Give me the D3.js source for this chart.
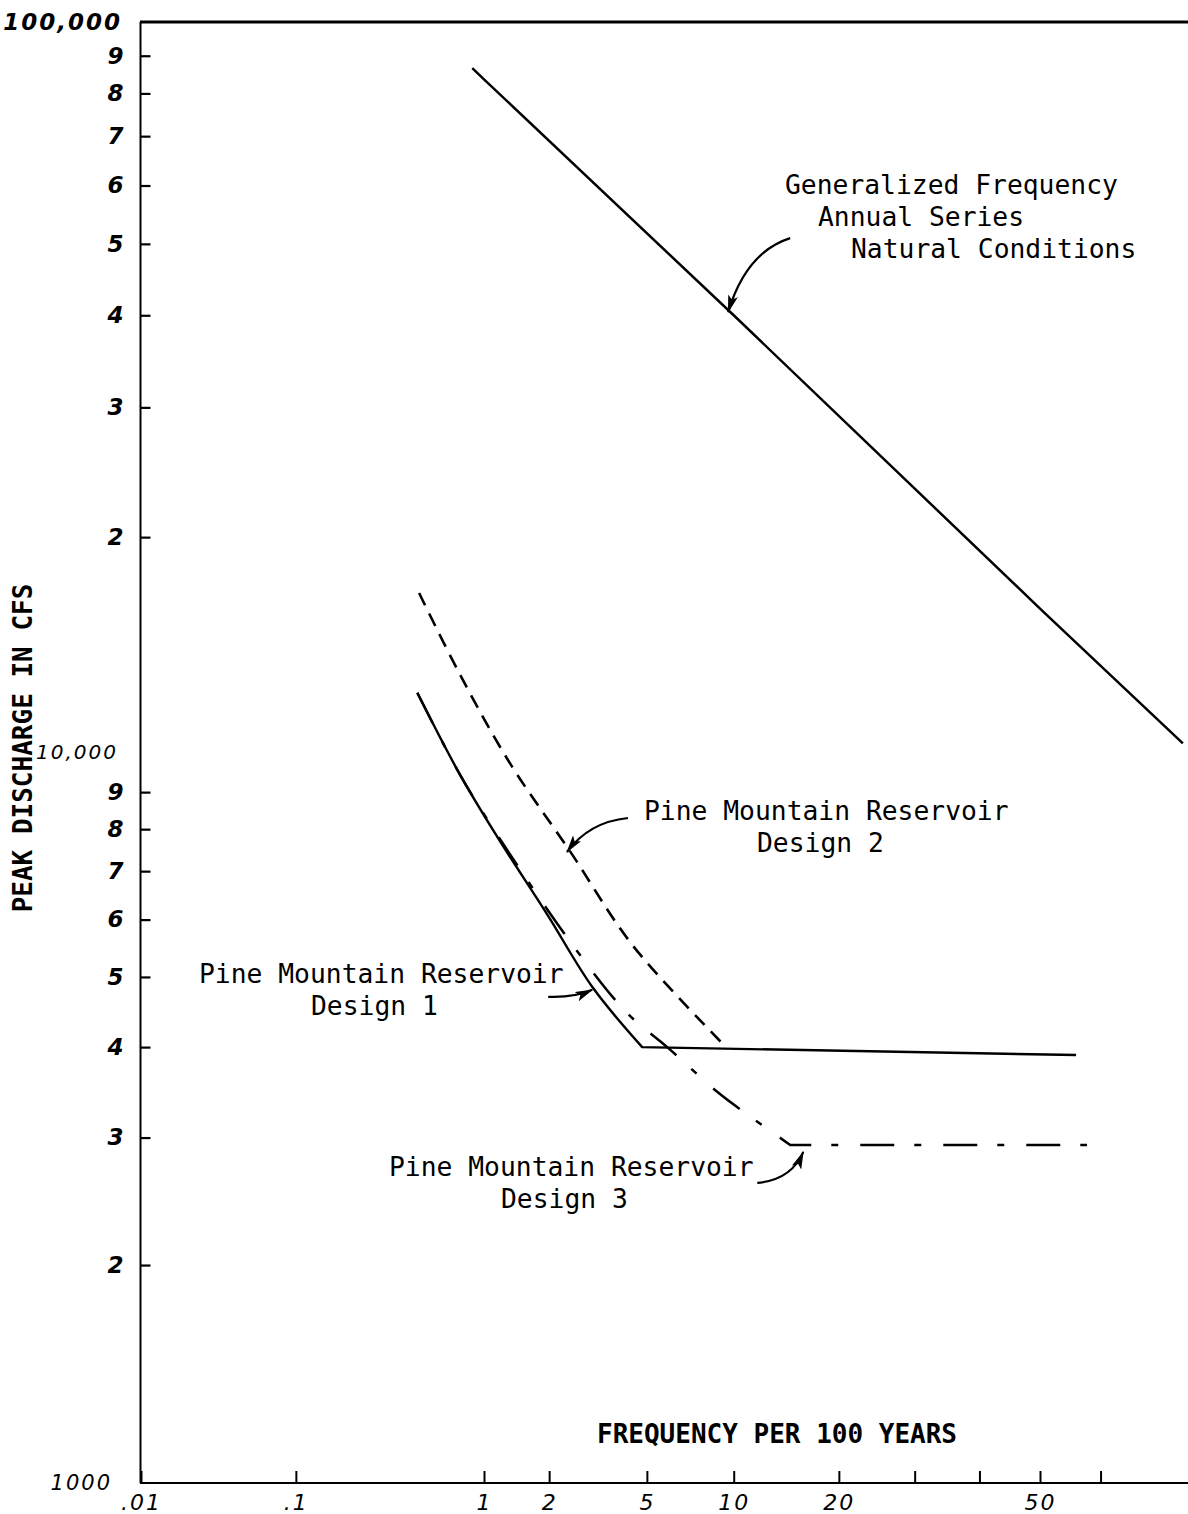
<!DOCTYPE html>
<html><head><meta charset="utf-8">
<script src="https://cdn.jsdelivr.net/npm/d3@7"></script>
<style>
html,body{margin:0;padding:0;background:#fff;}
svg{display:block;background:#fff;}
</style></head><body>
<svg id="chart" width="1188" height="1514"></svg>
<script>
// ---------------- data ----------------
const naturalFreq = [0.88, 1, 10, 50, 72.5];
const naturalQ    = [86600, 83600, 40000, 16000, 10500];

const design1Freq = [0.47, 0.77, 1.16, 1.96, 3.07, 4.8, 56];
const design1Q    = [12300, 9500, 7800, 6100, 4830, 4000, 3900];

const design2Freq = [0.48, 0.77, 1.33, 2.46, 4.43, 9.5];
const design2Q    = [16800, 13000, 9860, 7460, 5520, 3990];

const design3Freq = [0.47, 0.77, 1.16, 2.51, 4.2, 5.94, 8.84, 10.5, 14.8, 57.8];
const design3Q    = [12300, 9500, 7850, 5550, 4460, 4000, 3470, 3280, 2930, 2930];

const xTickValues = [0.01, 0.1, 1, 2, 5, 10, 20, 30, 40, 50, 60];
const xTickLabels = [".01", ".1", "1", "2", "5", "10", "20", "", "", "50", ""];

const yTickValues = [2000, 3000, 4000, 5000, 6000, 7000, 8000, 9000,
                     20000, 30000, 40000, 50000, 60000, 70000, 80000, 90000];
const yTickLabels = ["2","3","4","5","6","7","8","9","2","3","4","5","6","7","8","9"];

const yDecadeValues = [1000, 10000, 100000];
const yDecadeLabels = ["1000", "10,000", "100,000"];

const xTitle = "FREQUENCY PER 100 YEARS";
const yTitle = "PEAK DISCHARGE IN CFS";

const annotationLines = [
  ["Generalized Frequency", "Annual Series", "Natural Conditions"],
  ["Pine Mountain Reservoir", "Design 2"],
  ["Pine Mountain Reservoir", "Design 1"],
  ["Pine Mountain Reservoir", "Design 3"]
];
// arrow tips (frequency, discharge)
const arrowTipFreq = [9.6, 2.39, 3.05, 16.1];
const arrowTipQ    = [40400, 7440, 4800, 2866];

// ---------------- helpers ----------------
function probit(p){
  const a=[-3.969683028665376e+01,2.209460984245205e+02,-2.759285104469687e+02,1.383577518672690e+02,-3.066479806614716e+01,2.506628277459239e+00];
  const b=[-5.447609879822406e+01,1.615858368580409e+02,-1.556989798598866e+02,6.680131188771972e+01,-1.328068155288572e+01];
  const c=[-7.784894002430293e-03,-3.223964580411365e-01,-2.400758277161838e+00,-2.549671625434925e+00,4.374664141464968e+00,2.938163982698783e+00];
  const d=[7.784695709041462e-03,3.224671290700398e-01,2.445134137142996e+00,3.754408661907416e+00];
  const pl=0.02425, ph=1-pl; let q,r;
  if(p<pl){q=Math.sqrt(-2*Math.log(p));return (((((c[0]*q+c[1])*q+c[2])*q+c[3])*q+c[4])*q+c[5])/((((d[0]*q+d[1])*q+d[2])*q+d[3])*q+1);}
  if(p<=ph){q=p-0.5;r=q*q;return (((((a[0]*r+a[1])*r+a[2])*r+a[3])*r+a[4])*r+a[5])*q/(((((b[0]*r+b[1])*r+b[2])*r+b[3])*r+b[4])*r+1);}
  q=Math.sqrt(-2*Math.log(1-p));return -(((((c[0]*q+c[1])*q+c[2])*q+c[3])*q+c[4])*q+c[5])/((((d[0]*q+d[1])*q+d[2])*q+d[3])*q+1);
}

// ---------------- scales ----------------
const zScale = d3.scaleLinear()
  .domain([probit(0.0001), probit(0.01), probit(0.5)])
  .range([141, 484, 1040]);
const x = f => zScale(probit(f / 100));
const y = d3.scaleLog().domain([1000, 10000, 100000]).range([1483, 759, 22]);

const svg = d3.select("#chart");
const handFont = "'DejaVu Sans', sans-serif";
const monoFont = "'DejaVu Sans Mono', monospace";

// ---------------- frame ----------------
svg.append("line").attr("x1", 140).attr("x2", 1188).attr("y1", y(100000)).attr("y2", y(100000))
  .attr("stroke", "#000").attr("stroke-width", 3.2);
svg.append("line").attr("x1", 140.5).attr("x2", 140.5).attr("y1", y(100000)).attr("y2", y(1000))
  .attr("stroke", "#000").attr("stroke-width", 2);
svg.append("line").attr("x1", 140).attr("x2", 1188).attr("y1", y(1000)).attr("y2", y(1000))
  .attr("stroke", "#000").attr("stroke-width", 2.2);

// ---------------- axes ----------------
const yAxis = d3.axisLeft(y)
  .tickValues(yTickValues)
  .tickFormat((d, i) => yTickLabels[i])
  .tickSizeInner(-10).tickSizeOuter(0).tickPadding(17);
const gy = svg.append("g").attr("transform", "translate(140.5,0)").call(yAxis);
gy.select(".domain").remove();
gy.selectAll(".tick line").attr("stroke", "#000").attr("stroke-width", 2.2);
gy.selectAll(".tick text").attr("font-family", handFont).attr("font-style", "italic")
  .attr("font-weight", "bold").attr("font-size", 23).attr("fill", "#000");

const xAxis = d3.axisBottom(zScale)
  .tickValues(xTickValues.map(f => probit(f / 100)))
  .tickFormat((d, i) => xTickLabels[i])
  .tickSizeInner(-12).tickSizeOuter(0).tickPadding(11);
const gx = svg.append("g").attr("transform", `translate(0,${y(1000)})`).call(xAxis);
gx.select(".domain").remove();
gx.selectAll(".tick line").attr("stroke", "#000").attr("stroke-width", 2);
gx.selectAll(".tick text").attr("font-family", handFont).attr("font-style", "italic")
  .attr("font-size", 22).attr("letter-spacing", 2).attr("fill", "#000");

// decade labels
const decadeStyle = [
  {dx: 112, dy: 0, w: "normal", s: 21},
  {dx: 118, dy: -7, w: "normal", s: 20},
  {dx: 122, dy: 0, w: "bold", s: 23}
];
yDecadeValues.forEach((v, i) => {
  svg.append("text")
    .attr("x", decadeStyle[i].dx).attr("y", y(v) + decadeStyle[i].dy)
    .attr("dy", "0.35em").attr("text-anchor", "end")
    .attr("font-family", handFont).attr("font-style", "italic")
    .attr("font-weight", decadeStyle[i].w).attr("font-size", decadeStyle[i].s)
    .attr("letter-spacing", 2).attr("fill", "#000")
    .text(yDecadeLabels[i]);
});

// axis titles
svg.append("text").attr("x", 777).attr("y", 1443).attr("text-anchor", "middle")
  .attr("font-family", monoFont).attr("font-weight", "bold").attr("font-size", 26)
  .attr("fill", "#000").text(xTitle);
svg.append("text").attr("transform", "translate(32,748) rotate(-90)").attr("text-anchor", "middle")
  .attr("font-family", monoFont).attr("font-weight", "bold").attr("font-size", 26)
  .attr("fill", "#000").text(yTitle);

// ---------------- curves ----------------
const zip = (fs, qs) => fs.map((f, i) => [f, qs[i]]);
const smooth = d3.line().x(d => x(d[0])).y(d => y(d[1])).curve(d3.curveCatmullRom.alpha(0.5));
const straight = d3.line().x(d => x(d[0])).y(d => y(d[1]));

function kneePath(pts, kneeIdx){
  const fall = pts.slice(0, kneeIdx + 1);
  let p = smooth(fall);
  pts.slice(kneeIdx + 1).forEach(d => { p += `L${x(d[0])},${y(d[1])}`; });
  return p;
}

// natural conditions
svg.append("path").attr("d", straight(zip(naturalFreq, naturalQ)))
  .attr("fill", "none").attr("stroke", "#000").attr("stroke-width", 2.5);

// design 3 (dash-dot)
svg.append("path").attr("d", kneePath(zip(design3Freq, design3Q), 8))
  .attr("fill", "none").attr("stroke", "#000").attr("stroke-width", 2.5)
  .attr("stroke-dasharray", "34 20 7 22");

// design 2 (dashed)
svg.append("path").attr("d", smooth(zip(design2Freq, design2Q)))
  .attr("fill", "none").attr("stroke", "#000").attr("stroke-width", 2.6)
  .attr("stroke-dasharray", "14 9");

// design 1 (solid)
svg.append("path").attr("d", kneePath(zip(design1Freq, design1Q), 5))
  .attr("fill", "none").attr("stroke", "#000").attr("stroke-width", 2.4);

// ---------------- annotations ----------------
const defs = svg.append("defs");
defs.append("marker").attr("id", "ah").attr("viewBox", "0 0 18 10")
  .attr("refX", 17).attr("refY", 5).attr("markerWidth", 18).attr("markerHeight", 10)
  .attr("markerUnits", "userSpaceOnUse").attr("orient", "auto")
  .append("path").attr("d", "M0,0 L18,5 L0,10 L4,5 Z").attr("fill", "#000");

// tail offset and control offset relative to tip (pixels)
const arrowShape = [
  {tail: [62, -74], ctrl: [18, -60]},
  {tail: [61, -34], ctrl: [22, -30]},
  {tail: [-44, 7], ctrl: [-18, 8]},
  {tail: [-46, 31], ctrl: [-12, 28]}
];
arrowTipFreq.forEach((f, i) => {
  const tx = x(f), ty = y(arrowTipQ[i]);
  const s = arrowShape[i];
  svg.append("path")
    .attr("d", `M${tx + s.tail[0]},${ty + s.tail[1]} Q${tx + s.ctrl[0]},${ty + s.ctrl[1]} ${tx},${ty}`)
    .attr("fill", "none").attr("stroke", "#000").attr("stroke-width", 2.2)
    .attr("marker-end", "url(#ah)");
});

const textPos = [
  [[785, 194], [818, 226], [851, 258]],
  [[644, 820], [757, 852]],
  [[199, 983], [311, 1015]],
  [[389, 1176], [501, 1208]]
];
annotationLines.forEach((lines, i) => {
  lines.forEach((t, j) => {
    svg.append("text").attr("x", textPos[i][j][0]).attr("y", textPos[i][j][1])
      .attr("font-family", monoFont).attr("font-size", 26).attr("fill", "#000")
      .attr("textLength", t.length * 15.85).attr("lengthAdjust", "spacingAndGlyphs")
      .text(t);
  });
});
</script>
</body></html>
